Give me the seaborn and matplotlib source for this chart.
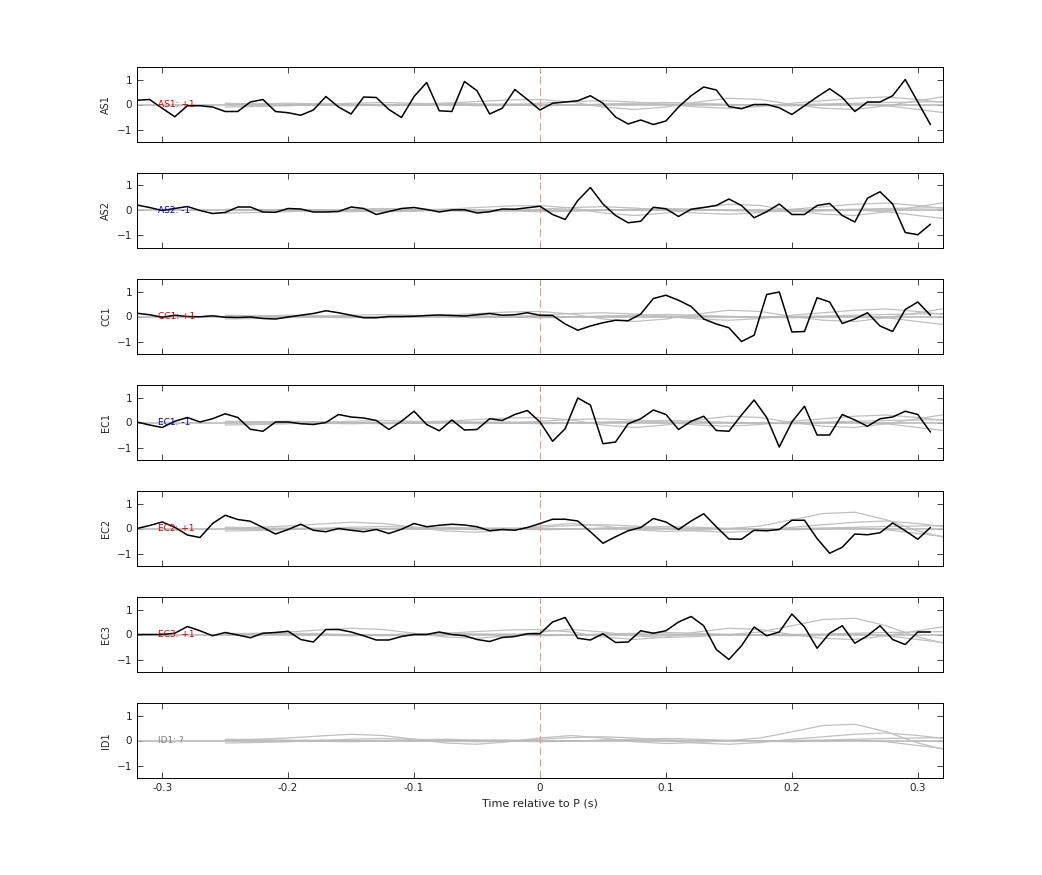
import numpy as np
import matplotlib
matplotlib.use("Agg")
import matplotlib.pyplot as plt
import seaborn as sns
import pandas as pd

sns.set_theme(style="white")
plt.rcParams['font.family'] = ['DejaVu Sans']

stations = ["AS1", "AS2", "CC1", "EC1", "EC2", "EC3", "ID1"]
polarity = ["+1", "-1", "+1", "-1", "+1", "+1", "?"]
label_colors = ["#d00000", "#0000c0", "#d00000", "#0000c0", "#d00000", "#d00000", "#808080"]

t_black = [round(-0.32 + 0.01 * i, 2) for i in range(64)]
AS1 = [0.17, 0.2, -0.15, -0.49, -0.05, -0.05, -0.1, -0.28, -0.28, 0.1, 0.2, -0.28, -0.33, -0.43, -0.22, 0.32,
       -0.1, -0.38, 0.3, 0.28, -0.2, -0.52, 0.32, 0.88, -0.25, -0.28, 0.92, 0.55, -0.38, -0.15, 0.6, 0.2,
       -0.22, 0.05, 0.1, 0.15, 0.35, 0.05, -0.5, -0.78, -0.62, -0.8, -0.66, -0.1, 0.35, 0.7, 0.58, -0.08,
       -0.17, 0.0, 0.0, -0.13, -0.4, -0.05, 0.3, 0.63, 0.28, -0.28, 0.1, 0.1, 0.35, 1.0, 0.1, -0.8]
AS2 = [0.22, 0.12, 0.0, 0.08, 0.16, 0.0, -0.12, -0.08, 0.14, 0.14, -0.06, -0.07, 0.08, 0.06, -0.06, -0.06,
       -0.04, 0.14, 0.08, -0.16, -0.04, 0.08, 0.12, 0.04, -0.06, 0.02, 0.03, -0.1, -0.05, 0.06, 0.05, 0.11,
       0.17, -0.16, -0.36, 0.4, 0.92, 0.26, -0.2, -0.49, -0.43, 0.13, 0.07, -0.24, 0.05, 0.12, 0.2, 0.46,
       0.2, -0.29, -0.05, 0.26, -0.16, -0.16, 0.2, 0.28, -0.2, -0.46, 0.49, 0.75, 0.26, -0.88, -0.97, -0.55]
CC1 = [0.13, 0.07, -0.03, 0.05, 0.0, -0.01, 0.03, -0.03, -0.04, -0.02, -0.08, -0.1, -0.02, 0.05, 0.12, 0.23,
       0.15, 0.05, -0.05, -0.05, 0.0, 0.0, 0.01, 0.04, 0.06, 0.04, 0.02, 0.07, 0.12, 0.05, 0.07, 0.15,
       0.05, 0.04, -0.3, -0.55, -0.38, -0.25, -0.15, -0.17, 0.1, 0.72, 0.85, 0.65, 0.4, -0.1, -0.3, -0.45,
       -1.0, -0.75, 0.88, 0.98, -0.62, -0.6, 0.75, 0.58, -0.28, -0.1, 0.15, -0.38, -0.6, 0.28, 0.58, 0.05]
EC1 = [0.02, -0.1, -0.2, 0.05, 0.2, 0.02, 0.15, 0.35, 0.2, -0.27, -0.35, 0.02, 0.02, -0.05, -0.08, 0.0,
       0.32, 0.22, 0.18, 0.08, -0.28, 0.05, 0.45, -0.08, -0.33, 0.1, -0.3, -0.28, 0.15, 0.08, 0.32, 0.48,
       0.02, -0.75, -0.25, 0.98, 0.7, -0.85, -0.78, -0.05, 0.15, 0.5, 0.32, -0.28, 0.05, 0.25, -0.32, -0.35,
       0.3, 0.9, 0.2, -0.98, 0.02, 0.65, -0.5, -0.5, 0.32, 0.1, -0.15, 0.15, 0.22, 0.45, 0.32, -0.38]
EC2 = [0.0, 0.12, 0.26, 0.05, -0.26, -0.36, 0.2, 0.53, 0.36, 0.29, 0.04, -0.22, -0.04, 0.17, -0.07, -0.13,
       0.0, -0.07, -0.13, -0.04, -0.2, -0.03, 0.2, 0.07, 0.13, 0.17, 0.14, 0.07, -0.09, -0.04, -0.07, 0.04,
       0.2, 0.37, 0.37, 0.3, -0.13, -0.59, -0.33, -0.09, 0.04, 0.4, 0.26, -0.04, 0.3, 0.59, 0.07, -0.42,
       -0.43, -0.07, -0.09, -0.04, 0.33, 0.33, -0.4, -0.99, -0.75, -0.22, -0.25, -0.17, 0.22, -0.09, -0.43, 0.04]
EC3 = [0.0, 0.0, 0.0, 0.05, 0.32, 0.15, -0.05, 0.08, -0.02, -0.13, 0.05, 0.08, 0.13, -0.2, -0.3, 0.2,
       0.2, 0.1, -0.05, -0.22, -0.22, -0.08, 0.0, 0.0, 0.1, 0.0, -0.05, -0.2, -0.28, -0.12, -0.08, 0.03,
       0.03, 0.5, 0.68, -0.15, -0.22, 0.03, -0.32, -0.3, 0.15, 0.05, 0.15, 0.5, 0.72, 0.35, -0.6, -1.0,
       -0.45, 0.3, -0.05, 0.1, 0.82, 0.3, -0.55, 0.05, 0.35, -0.35, -0.05, 0.35, -0.2, -0.4, 0.1, 0.1]
black = [AS1, AS2, CC1, EC1, EC2, EC3, None]

# gray reference traces, sampled every 0.025 s from -0.25 s
t_gray = [round(-0.25 + 0.025 * i, 3) for i in range(24)]
g_a = [0.0, 0.02, 0.05, 0.03, -0.02, -0.05, -0.03, 0.05, 0.12, 0.18, 0.2, 0.1, -0.1, -0.2, -0.1, 0.1,
       0.25, 0.2, 0.0, -0.15, -0.2, -0.05, 0.15, 0.35]
g_b = [-0.1, -0.08, -0.05, 0.0, 0.05, 0.08, 0.05, 0.0, -0.05, -0.02, 0.05, 0.12, 0.15, 0.1, 0.0, -0.1,
       -0.15, -0.08, 0.05, 0.15, 0.25, 0.3, 0.2, 0.05]
g_c = [0.05, 0.03, 0.0, -0.03, -0.05, -0.02, 0.03, 0.05, 0.02, -0.02, -0.05, -0.03, 0.02, 0.05, 0.08,
       0.05, 0.0, -0.03, -0.05, -0.02, 0.02, -0.05, -0.2, -0.35]
g_d = [0.0, 0.0, 0.01, 0.01, 0.0, 0.0, -0.01, 0.0, 0.01, 0.02, 0.0, -0.01, 0.0, 0.01, 0.02, 0.01, 0.0,
       -0.01, 0.0, 0.02, 0.05, 0.08, 0.1, 0.12]
g_e = [0.02, 0.05, 0.1, 0.18, 0.25, 0.2, 0.05, -0.1, -0.15, -0.05, 0.1, 0.2, 0.1, -0.05, -0.12, -0.08,
       0.0, 0.1, 0.35, 0.6, 0.65, 0.35, -0.1, -0.4]
gray_sets = [[g_a, g_b, g_c, g_d], [g_b, g_c, g_d, g_a], [g_c, g_b, g_d, g_a],
             [g_b, g_a, g_d, g_c], [g_e, g_b, g_c, g_d], [g_a, g_e, g_c, g_d], [g_e, g_b, g_c, g_d]]

W, H = 1042, 875
fig = plt.figure(figsize=(W / 100, H / 100), dpi=100)
left, right = 137 / W, 943 / W
for i, st in enumerate(stations):
    top = 67 + 106 * i
    ax = fig.add_axes([left, 1 - (top + 75) / H, right - left, 75 / H])
    for g in gray_sets[i]:
        sns.lineplot(x=t_gray, y=g, ax=ax, color="#c0c0c0", lw=0.9, estimator=None)
    ax.axhline(0, color="#bbbbbb", lw=1.2)
    ax.axvline(0, color="#f09090", lw=0.7, ls=(0, (8, 4)))
    if black[i] is not None:
        sns.lineplot(x=t_black, y=black[i], ax=ax, color="black", lw=1.1, estimator=None)
    ax.text(-0.303, 0, f"{st}: {polarity[i]}", color=label_colors[i], fontsize=6.5, va="center", ha="left")
    ax.set_xlim(-0.32, 0.32)
    ax.set_ylim(-1.5, 1.5)
    ax.set_yticks([-1, 0, 1])
    ax.set_xticks([-0.3, -0.2, -0.1, 0, 0.1, 0.2, 0.3])
    ax.tick_params(direction="in", top=True, right=True, length=4, labelsize=7.5, width=0.6,
                   left=True, bottom=True)
    ax.set_ylabel(st, fontsize=7)
    for s in ax.spines.values():
        s.set_linewidth(0.7)
        s.set_color("black")
    if i < len(stations) - 1:
        ax.set_xticklabels([])
    else:
        ax.set_xticklabels(["-0.3", "-0.2", "-0.1", "0", "0.1", "0.2", "0.3"])
        ax.set_xlabel("Time relative to P (s)", fontsize=8)

fig.savefig("out.png", dpi=100)
